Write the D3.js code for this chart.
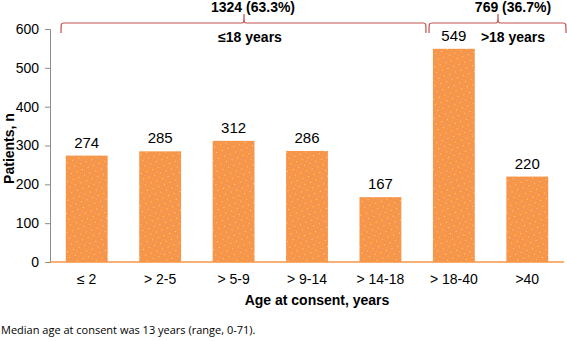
<!DOCTYPE html>
<html>
<head>
<meta charset="utf-8">
<script src="https://cdn.jsdelivr.net/npm/d3@7"></script>
<style>
  body { margin: 0; background: #fff; }
  text { font-family: "Liberation Sans", Arial, sans-serif; }
</style>
</head>
<body>
<div id="chart"></div>
<script>
// data
const categories = ["≤ 2", "> 2-5", "> 5-9", "> 9-14", "> 14-18", "> 18-40", ">40"];
const patients = [274, 285, 312, 286, 167, 549, 220];
const yTicks = [0, 100, 200, 300, 400, 500, 600];
const groups = [
  { label: "≤18 years", total: "1324 (63.3%)", from: 0, to: 4 },
  { label: ">18 years", total: "769 (36.7%)", from: 5, to: 6 }
];
const footnote = "Median age at consent was 13 years (range, 0-71).";

const width = 567, height = 341;
const margin = { top: 29, right: 3, bottom: 79, left: 50 };

const svg = d3.select("#chart").append("svg")
  .attr("width", width)
  .attr("height", height);

// 图案: 橙色底加小点
const defs = svg.append("defs");
const pat = defs.append("pattern")
  .attr("id", "dots")
  .attr("width", 6).attr("height", 6)
  .attr("patternUnits", "userSpaceOnUse")
  .attr("patternTransform", "rotate(-20)");
pat.append("rect").attr("width", 6).attr("height", 6).attr("fill", "#f79646");
pat.append("rect").attr("x", 1).attr("y", 1).attr("width", 1).attr("height", 1).attr("fill", "#fbd0b0");
pat.append("rect").attr("x", 4).attr("y", 4).attr("width", 1).attr("height", 1).attr("fill", "#d8a0b8");

const x = d3.scaleBand()
  .domain(categories)
  .range([margin.left, 564])
  .paddingInner(0.43)
  .paddingOuter(0.215);

const y = d3.scaleLinear()
  .domain([0, 600])
  .range([height - margin.bottom, margin.top]);

// y axis
const yAxis = svg.append("g")
  .attr("transform", `translate(${margin.left},0)`)
  .call(d3.axisLeft(y).tickValues(yTicks).tickSize(5).tickPadding(6));
yAxis.select(".domain").attr("stroke", "#8c8c8c");
yAxis.selectAll(".tick line").attr("stroke", "#8c8c8c");
yAxis.selectAll("text")
  .attr("font-size", 14)
  .attr("fill", "#000")
  .style("font-family", "Liberation Sans, Arial, sans-serif");

// bars
svg.selectAll(".bar")
  .data(patients)
  .join("rect")
  .attr("class", "bar")
  .attr("x", (d, i) => x(categories[i]))
  .attr("y", d => y(d))
  .attr("width", x.bandwidth())
  .attr("height", d => y(0) - y(d))
  .attr("fill", "url(#dots)");

// x axis baseline
svg.append("line")
  .attr("x1", margin.left).attr("x2", 564)
  .attr("y1", y(0)).attr("y2", y(0))
  .attr("stroke", "#f79646")
  .attr("stroke-width", 1.5);

// value labels
svg.selectAll(".val")
  .data(patients)
  .join("text")
  .attr("class", "val")
  .attr("x", (d, i) => x(categories[i]) + x.bandwidth() / 2)
  .attr("y", d => y(d) - 8)
  .attr("text-anchor", "middle")
  .attr("font-size", 15)
  .text(d => d);

// x tick labels
svg.selectAll(".xlab")
  .data(categories)
  .join("text")
  .attr("class", "xlab")
  .attr("x", d => x(d) + x.bandwidth() / 2)
  .attr("y", y(0) + 22)
  .attr("text-anchor", "middle")
  .attr("font-size", 14)
  .text(d => d);

// axis titles
svg.append("text")
  .attr("x", 317).attr("y", 305)
  .attr("text-anchor", "middle")
  .attr("font-size", 14)
  .attr("font-weight", "bold")
  .text("Age at consent, years");

svg.append("text")
  .attr("transform", `translate(14,${(y(0) + y(600)) / 2 + 3}) rotate(-90)`)
  .attr("text-anchor", "middle")
  .attr("font-size", 14)
  .attr("font-weight", "bold")
  .text("Patients, n");

// brackets
const bx0 = [61, 429], bx1 = [426, 566], peak = [244, 498];
function brace(x0, x1, xm) {
  const yb = 23, ye = 33, yp = 14, r = 3;
  return `M${x0},${ye} C${x0},${yb} ${x0},${yb} ${x0 + r},${yb}`
    + ` L${xm - r},${yb} C${xm},${yb} ${xm},${yb} ${xm},${yp}`
    + ` C${xm},${yb} ${xm},${yb} ${xm + r},${yb}`
    + ` L${x1 - r},${yb} C${x1},${yb} ${x1},${yb} ${x1},${ye}`;
}
groups.forEach((g, k) => {
  svg.append("path")
    .attr("d", brace(bx0[k], bx1[k], peak[k]))
    .attr("fill", "none")
    .attr("stroke", "#c0504d")
    .attr("stroke-width", 1.2);
  svg.append("text")
    .attr("x", k === 0 ? 253 : 513).attr("y", 12)
    .attr("text-anchor", "middle")
    .attr("font-size", 14)
    .attr("font-weight", "bold")
    .text(g.total);
  svg.append("text")
    .attr("x", k === 0 ? 250 : 513).attr("y", 42)
    .attr("text-anchor", "middle")
    .attr("font-size", 14)
    .attr("font-weight", "bold")
    .text(g.label);
});

// footnote
svg.append("text")
  .attr("x", 1).attr("y", 334)
  .attr("font-size", 11)
  .style("font-family", "'Open Sans', 'Noto Sans', sans-serif")
  .text(footnote);
</script>
</body>
</html>
